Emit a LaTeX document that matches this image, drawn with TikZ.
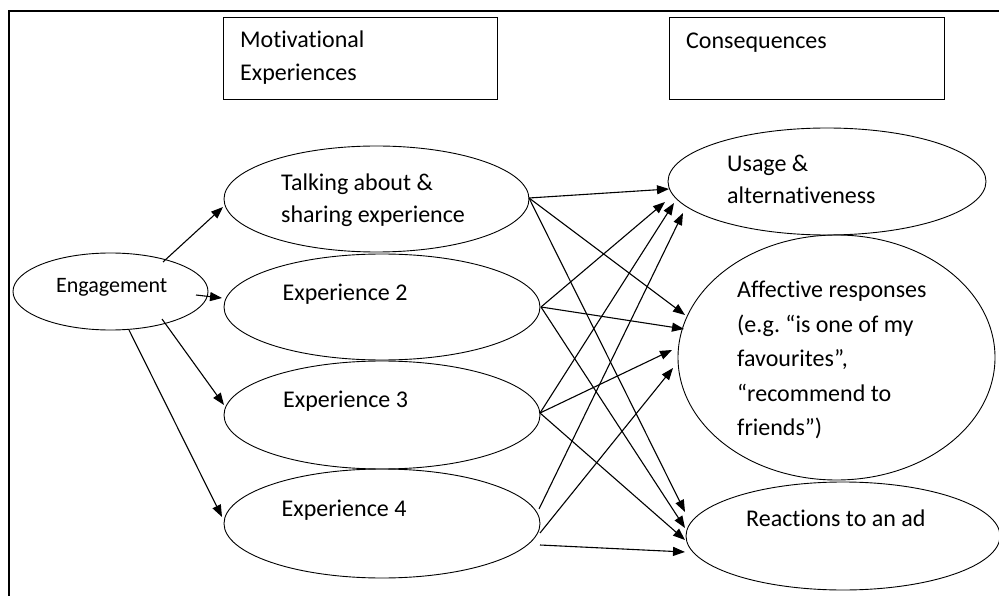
\documentclass[tikz,border=0pt]{standalone}
\usepackage{fontspec}
\setmainfont{Carlito}[Ligatures=NoCommon]
\usetikzlibrary{shapes.geometric,arrows.meta,calc}
\frenchspacing
\begin{document}
\begin{tikzpicture}[x=1pt,y=-1pt,
  oval/.style={draw,ellipse,line width=0.9pt,inner sep=0pt},
  lbl/.style={anchor=base west,inner sep=0pt,align=left,font=\fontsize{24}{33}\selectfont},
  conn/.style={line width=1.1pt,-{Triangle[length=12pt,width=9pt]}},
  hdr/.style={draw,line width=1.1pt,anchor=north west,inner sep=0pt}]
\useasboundingbox (0,0) rectangle (999,596);
% outer frame (cropped)
\draw[line width=2.2pt,line join=miter] (9,600) -- (9,11) -- (1003,11);
% header boxes
\node[hdr,minimum width=274pt,minimum height=82pt] (mbox) at (223,17) {};
\node[hdr,minimum width=275pt,minimum height=82pt] (cbox) at (669,17) {};
\node[lbl] (mtxt) at (240,81) {Motivational\\Experiences};
\node[lbl] (ctxt) at (686,49) {Consequences};
% ellipses
\node[oval,minimum width=195pt,minimum height=77pt] (eng) at (110.5,291.5) {};
\node[oval,minimum width=305pt,minimum height=106pt] (talk) at (376.5,199) {};
\node[oval,minimum width=316pt,minimum height=106pt] (e2) at (382,307) {};
\node[oval,minimum width=316pt,minimum height=108pt] (e3) at (382,415) {};
\node[oval,minimum width=316pt,minimum height=109pt] (e4) at (382,523.5) {};
\node[oval,minimum width=318pt,minimum height=107pt] (use) at (827,181.5) {};
\node[oval,minimum width=317pt,minimum height=245pt] (aff) at (836.5,357.5) {};
\node[oval,minimum width=314pt,minimum height=108pt] (rea) at (843,536) {};
% texts
\node[lbl,font=\fontsize{22}{30}\selectfont] (engt) at (56,293) {Engagement};
\node[lbl,font=\fontsize{24}{32}\selectfont] (talkt) at (281,222.5) {Talking about \&\\sharing experience};
\node[lbl] (e2t) at (282.5,301) {Experience 2};
\node[lbl] (e3t) at (283,407) {Experience 3};
\node[lbl] (e4t) at (281.5,516) {Experience 4};
\node[lbl,font=\fontsize{24}{32.5}\selectfont] (uset) at (727,204) {Usage \&\\alternativeness};
\node[lbl,font=\fontsize{24}{34.5}\selectfont] (afft) at (737,435.5) {Affective responses\\(e.g. “is one of my\\favourites”,\\“recommend to\\friends”)};
\node[lbl] (reat) at (746,526.5) {Reactions to an ad};
% connectors from Engagement
\draw[conn] ($(eng.center)+(52.5,-29.5)$) -- ($(talk.center)+(-153.5,8)$);
\draw[conn] ($(eng.center)+(85.5,3.5)$) -- ($(e2.center)+(-160,-9)$);
\draw[conn] ($(eng.center)+(51.5,27.5)$) -- ($(e3.center)+(-158,-10)$);
\draw[conn] ($(eng.center)+(18.5,38.5)$) -- ($(e4.center)+(-160,-6.5)$);
% from Talking
\draw[conn] ($(talk.center)+(152.5,-1)$) -- ($(use.center)+(-158,7.5)$);
\draw[conn] ($(talk.center)+(152.5,-1)$) -- ($(aff.center)+(-151.5,-42.5)$);
\draw[conn] ($(talk.center)+(152.5,-1)$) -- ($(rea.center)+(-158,-24)$);
% from Experience 2
\draw[conn] ($(e2.center)+(159,0)$) -- ($(use.center)+(-162,20.5)$);
\draw[conn] ($(e2.center)+(159,0)$) -- ($(aff.center)+(-152.5,-28.5)$);
\draw[conn] ($(e2.center)+(159,0)$) -- ($(rea.center)+(-158,-8)$);
% from Experience 3
\draw[conn] ($(e3.center)+(158,-2)$) -- ($(use.center)+(-153,21.5)$);
\draw[conn] ($(e3.center)+(158,-2)$) -- ($(aff.center)+(-164.5,-7.5)$);
\draw[conn] ($(e3.center)+(158,-2)$) -- ($(rea.center)+(-158,4)$);
% from Experience 4
\draw[conn] ($(e4.center)+(157,-14.5)$) -- ($(use.center)+(-144,31.5)$);
\draw[conn] ($(e4.center)+(158,9.5)$) -- ($(aff.center)+(-163.5,10.5)$);
\draw[conn] ($(e4.center)+(158,21.5)$) -- ($(rea.center)+(-158,16)$);
\end{tikzpicture}
\end{document}
